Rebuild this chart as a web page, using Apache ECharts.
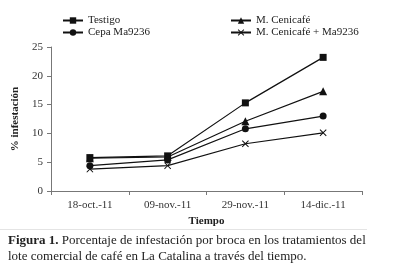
<!DOCTYPE html>
<html>
<head>
<meta charset="utf-8">
<script src="https://cdn.jsdelivr.net/npm/echarts@6/dist/echarts.min.js"></script>
<style>
  html, body { margin: 0; padding: 0; background: #fff; }
  #chart { width: 400px; height: 269px; }
</style>
</head>
<body>
<div id="chart"></div>
<script>
var fechas = ['18-oct.-11', '09-nov.-11', '29-nov.-11', '14-dic.-11'];
var testigo = [5.8, 6.1, 15.3, 23.2];
var cenicafe = [5.7, 5.9, 12.1, 17.3];
var cepa = [4.4, 5.4, 10.8, 13.0];
var mezcla = [3.8, 4.4, 8.2, 10.1];

var serif = '"Liberation Serif", "DejaVu Serif", serif';
var cruz = 'path://M0,1L1,0L5,4L9,0L10,1L6,5L10,9L9,10L5,6L1,10L0,9L4,5Z';

function linea (name, data, symbol, size) {
    return {
        name: name,
        type: 'line',
        data: data,
        symbol: symbol,
        symbolSize: size,
        showAllSymbol: true,
        lineStyle: { color: '#111', width: 1.2 },
        itemStyle: { color: '#111' },
        emphasis: { disabled: true }
    };
}

var chart = echarts.init(document.getElementById('chart'));
chart.setOption({
    animation: false,
    textStyle: { fontFamily: serif, color: '#222' },
    grid: { left: 51, right: 38, top: 47, bottom: 78 },
    legend: [
        {
            orient: 'vertical', left: 57, top: 10,
            itemWidth: 20, itemHeight: 8, itemGap: 1,
            textStyle: { fontFamily: serif, fontSize: 11, color: '#222' },
            data: ['Testigo', 'Cepa Ma9236']
        },
        {
            orient: 'vertical', left: 225, top: 10,
            itemWidth: 20, itemHeight: 8, itemGap: 1,
            textStyle: { fontFamily: serif, fontSize: 11, color: '#222' },
            data: ['M. Cenicafé', 'M. Cenicafé + Ma9236']
        }
    ],
    xAxis: {
        type: 'category',
        data: fechas,
        boundaryGap: true,
        name: 'Tiempo',
        nameLocation: 'middle',
        nameGap: 20,
        nameTextStyle: { fontFamily: serif, fontWeight: 'bold', fontSize: 11, color: '#222' },
        axisLine: { lineStyle: { color: '#777' } },
        axisTick: { show: true, inside: false, length: 4, lineStyle: { color: '#777' } },
        axisLabel: { fontFamily: serif, fontSize: 11, color: '#333', margin: 9 }
    },
    yAxis: {
        type: 'value',
        min: 0, max: 25, interval: 5,
        name: '% infestación',
        nameLocation: 'middle',
        nameGap: 30,
        nameTextStyle: { fontFamily: serif, fontWeight: 'bold', fontSize: 11, color: '#222' },
        axisLine: { show: true, lineStyle: { color: '#777' } },
        axisTick: { show: true, length: 4, lineStyle: { color: '#777' } },
        splitLine: { show: false },
        axisLabel: { fontFamily: serif, fontSize: 11, color: '#333', margin: 8 }
    },
    graphic: [
        {
            type: 'line',
            shape: { x1: 0, y1: 229.5, x2: 367, y2: 229.5 },
            style: { stroke: '#e4e4e4', lineWidth: 1 }
        },
        {
            type: 'text',
            left: 8, top: 233,
            style: {
                text: '{b|Figura 1.} Porcentaje de infestación por broca en los tratamientos del\nlote comercial de café en La Catalina a través del tiempo.',
                font: '13px ' + serif,
                fill: '#222',
                lineHeight: 16,
                rich: {
                    b: { fontWeight: 'bold', fontFamily: serif, fontSize: 13, fill: '#222' }
                }
            }
        }
    ],
    series: [
        linea('Testigo', testigo, 'rect', 7),
        linea('Cepa Ma9236', cepa, 'circle', 7),
        linea('M. Cenicafé', cenicafe, 'triangle', 8),
        linea('M. Cenicafé + Ma9236', mezcla, cruz, 7)
    ]
});
</script>
</body>
</html>
